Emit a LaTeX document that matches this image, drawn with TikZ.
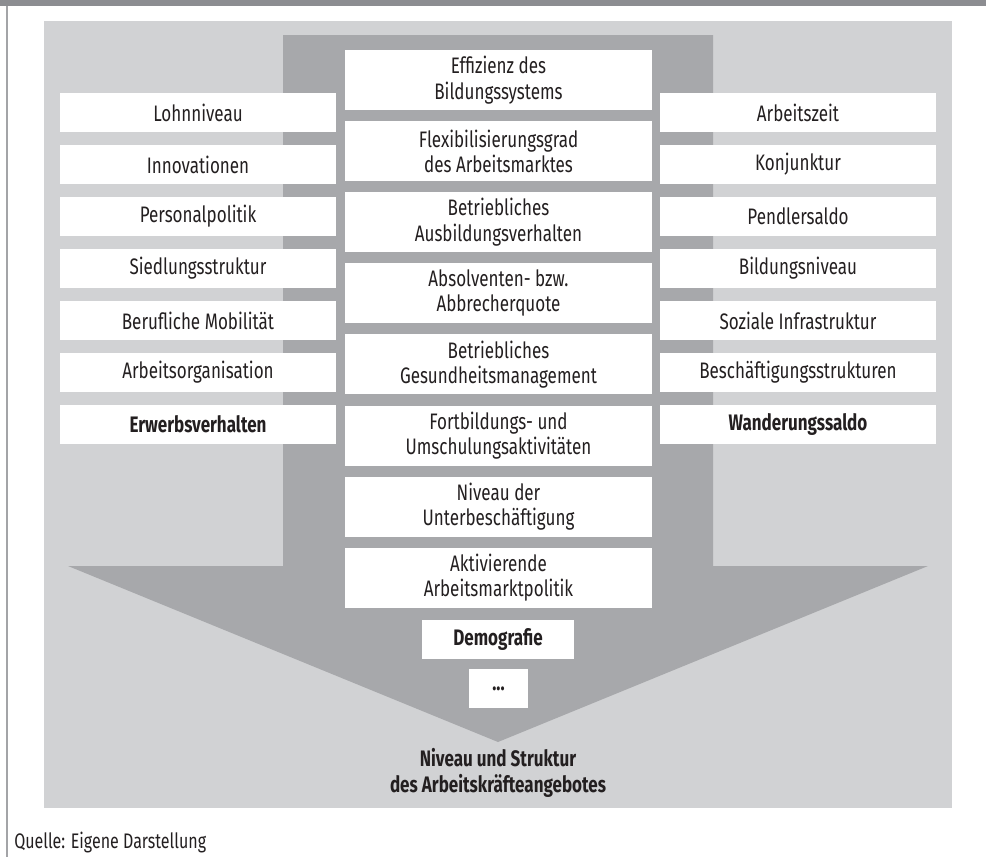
\documentclass[tikz,border=0pt]{standalone}
\usepackage{fontspec}
\setmainfont{Fira Sans}[FakeStretch=0.76]
\usetikzlibrary{positioning}
\definecolor{framegray}{HTML}{8C8D91}
\definecolor{panelgray}{HTML}{D1D2D4}
\definecolor{arrowgray}{HTML}{A7A8AB}
\definecolor{textdark}{HTML}{231F20}

\begin{document}
\begin{tikzpicture}[
    x=0.75pt, y=-0.75pt,
    side/.style={fill=white, minimum width=207pt, minimum height=29.25pt, align=center, inner sep=0pt, text=textdark, font=\fontsize{16.8}{19}\selectfont},
    mid/.style={fill=white, minimum width=230.25pt, minimum height=45pt, align=center, inner sep=0pt, text=textdark, font=\fontsize{16.8}{19}\selectfont},
    key/.style={font=\fontsize{16.8}{19}\selectfont\bfseries},
]
\useasboundingbox (0,0) rectangle (986,857);

% Frame
\fill[framegray] (0,0) rectangle (986,6);
\draw[framegray!80, line width=1pt] (7,6) -- (7,857);

% Background panel and arrow
\fill[panelgray] (44,21) rectangle (952,808);
\fill[arrowgray] (283,35) -- (713,35) -- (713,566) -- (928,566) -- (498,742)
    -- (68,566) -- (283,566) -- cycle;

% Left column
\node[side] (lohn) at (198,112.5) {Lohnniveau};
\node[side] (inno) at (198,164.5) {Innovationen};
\node[side] (pers) at (198,216.5) {Personalpolitik};
\node[side] (sied) at (198,268.5) {Siedlungsstruktur};
\node[side] (mobi) at (198,320.5) {Berufliche Mobilität};
\node[side] (orga) at (198,372.5) {Arbeitsorganisation};
\node[side, key] (erwerb) at (198,424.5) {Erwerbsverhalten};

% Right column
\node[side] (zeit) at (798,112.5) {Arbeitszeit};
\node[side] (konj) at (798,164.5) {Konjunktur};
\node[side] (pend) at (798,216.5) {Pendlersaldo};
\node[side] (bniv) at (798,268.5) {Bildungsniveau};
\node[side] (infra) at (798,320.5) {Soziale Infrastruktur};
\node[side] (besch) at (798,372.5) {Beschäftigungsstrukturen};
\node[side, key] (wand) at (798,424.5) {Wanderungssaldo};

% Middle column
\node[mid] (effi) at (498.5,80) {Effizienz des\\Bildungssystems};
\node[mid] (flex) at (498.5,151.1) {Flexibilisierungsgrad\\des Arbeitsmarktes};
\node[mid] (ausb) at (498.5,222.2) {Betriebliches\\Ausbildungsverhalten};
\node[mid] (absol) at (498.5,293.3) {Absolventen- bzw.\\Abbrecherquote};
\node[mid] (gesu) at (498.5,364.4) {Betriebliches\\Gesundheitsmanagement};
\node[mid] (fort) at (498.5,435.5) {Fortbildungs- und\\Umschulungsaktivitäten};
\node[mid] (unter) at (498.5,506.6) {Niveau der\\Unterbeschäftigung};
\node[mid] (aktiv) at (498.5,577.7) {Aktivierende\\Arbeitsmarktpolitik};
\node[side, key, minimum width=114pt] (demo) at (498,639.5) {Demografie};
\node[side, key, minimum width=44.25pt] (etc) at (498.5,688.5) {...};

% Result
\node[key, text=textdark, align=center] (result) at (498,773)
    {Niveau und Struktur\\des Arbeitskräfteangebotes};

% Source
\node[anchor=base west, text=textdark, inner sep=0pt, font=\fontsize{15.8}{18}\selectfont]
    (quelle) at (14,848) {Quelle: Eigene Darstellung};

\end{tikzpicture}
\end{document}
